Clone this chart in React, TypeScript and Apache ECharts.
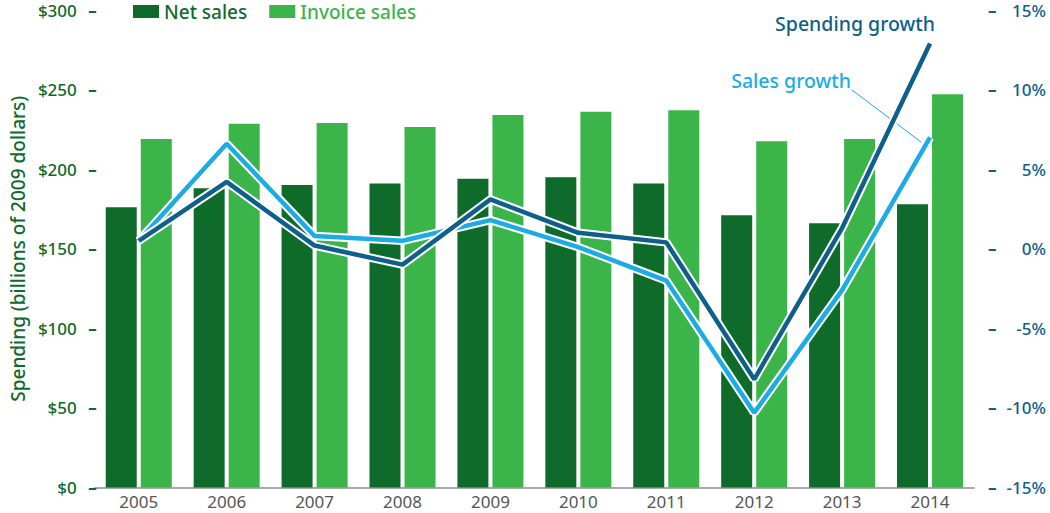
import React, { useEffect, useRef } from "react";
import * as echarts from "echarts";

const years = ["2005", "2006", "2007", "2008", "2009", "2010", "2011", "2012", "2013", "2014"];
const netSales = [176, 188, 190, 191, 194, 195, 191, 171, 166, 178];
const invoiceSales = [219, 228.5, 229, 226.5, 234, 236, 237, 217.5, 219, 247];
const spendingGrowth = [0.5, 4.2, 0.2, -1.0, 3.1, 1.0, 0.4, -8.2, 1.3, 12.9];
const salesGrowth = [0.5, 6.6, 0.8, 0.5, 1.8, 0.1, -2.0, -10.3, -2.6, 7.0];

const DARK_GREEN = "#0e6b2a";
const LIGHT_GREEN = "#3bb44a";
const DARK_BLUE = "#0f5f8b";
const LIGHT_BLUE = "#1cabe4";
const FONT = "'Noto Sans', 'Open Sans', sans-serif";
const W = 500;

const App = () => {
  const chartRef = useRef<HTMLDivElement>(null);

  useEffect(() => {
    if (!chartRef.current) return;
    const chart = echarts.init(chartRef.current, undefined, { renderer: "svg" });

    const outline = (data: number[]) => ({
      type: "line" as const,
      yAxisIndex: 1,
      data,
      symbol: "none",
      silent: true,
      lineStyle: { color: "#ffffff", width: 8.5 },
    });

    const option: echarts.EChartsOption = {
      animation: false,
      textStyle: { fontFamily: FONT },
      grid: { left: 84, right: 76, top: 10, bottom: 25.5 },
      legend: {
        top: 2,
        left: 133,
        padding: 0,
        icon: "rect",
        itemWidth: 26,
        itemHeight: 13,
        itemGap: 22,
        selectedMode: false,
        textStyle: { fontSize: 19, fontWeight: W, fontFamily: FONT, lineHeight: 16 },
        data: [
          { name: "Net sales", textStyle: { color: DARK_GREEN } },
          { name: "Invoice sales", textStyle: { color: LIGHT_GREEN } },
        ],
      },
      xAxis: {
        type: "category",
        data: years,
        axisLine: { lineStyle: { color: "#a8a8a8", width: 2 } },
        axisTick: { show: false },
        axisLabel: { color: "#555555", fontSize: 17, margin: 6, fontFamily: FONT, lineHeight: 16 },
      },
      yAxis: [
        {
          type: "value",
          min: 0,
          max: 300,
          interval: 50,
          name: "Spending (billions of 2009 dollars)",
          nameLocation: "middle",
          nameRotate: 90,
          nameGap: 64,
          nameTextStyle: { color: DARK_GREEN, fontSize: 19, fontWeight: W, fontFamily: FONT },
          axisLine: { show: false },
          axisTick: { show: false },
          splitLine: { show: false },
          axisLabel: {
            margin: -2,
            color: DARK_GREEN,
            formatter: (v: number) => `{n|$${v}}{d|–}`,
            rich: {
              n: { color: DARK_GREEN, fontSize: 17, fontWeight: W, fontFamily: FONT, lineHeight: 16 },
              d: { width: 20, align: "right", color: DARK_GREEN, fontSize: 17, fontWeight: "bold", fontFamily: FONT, lineHeight: 16 },
            },
          },
        },
        {
          type: "value",
          min: -15,
          max: 15,
          interval: 5,
          axisLine: { show: false },
          axisTick: { show: false },
          splitLine: { show: false },
          axisLabel: {
            margin: 14,
            color: DARK_BLUE,
            formatter: (v: number) => `{d|–}{n|${v}%}`,
            rich: {
              d: { width: 12, color: DARK_BLUE, fontSize: 17, fontWeight: "bold", fontFamily: FONT, lineHeight: 16 },
              n: { width: 46, align: "right", color: DARK_BLUE, fontSize: 17, fontWeight: W, fontFamily: FONT, lineHeight: 16 },
            },
          },
        },
      ],
      series: [
        {
          name: "Net sales",
          type: "bar",
          data: netSales,
          barWidth: 31,
          barGap: "13%",
          itemStyle: { color: DARK_GREEN },
        },
        {
          name: "Invoice sales",
          type: "bar",
          data: invoiceSales,
          barWidth: 31,
          itemStyle: { color: LIGHT_GREEN },
        },
        outline(salesGrowth),
        {
          name: "Sales growth",
          type: "line",
          yAxisIndex: 1,
          data: salesGrowth,
          symbol: "none",
          lineStyle: { color: LIGHT_BLUE, width: 4.5 },
        },
        outline(spendingGrowth),
        {
          name: "Spending growth",
          type: "line",
          yAxisIndex: 1,
          data: spendingGrowth,
          symbol: "none",
          lineStyle: { color: DARK_BLUE, width: 4.5 },
        },
      ],
      graphic: [
        {
          type: "text",
          x: 935,
          y: 23,
          style: {
            text: "Spending growth",
            align: "right",
            verticalAlign: "middle",
            fill: DARK_BLUE,
            fontSize: 19.5,
            fontWeight: W,
            fontFamily: FONT,
          },
        },
        {
          type: "text",
          x: 851,
          y: 80,
          style: {
            text: "Sales growth",
            align: "right",
            verticalAlign: "middle",
            fill: LIGHT_BLUE,
            fontSize: 19.5,
            fontWeight: W,
            fontFamily: FONT,
          },
        },
        {
          type: "line",
          z: 1,
          shape: { x1: 852, y1: 90, x2: 921, y2: 142 },
          style: { stroke: LIGHT_BLUE, lineWidth: 1 },
        },
      ],
    };

    chart.setOption(option);
    return () => chart.dispose();
  }, []);

  return (
    <div
      ref={chartRef}
      style={{ position: "absolute", left: 0, top: 0, width: 1050, height: 513, background: "#ffffff" }}
    />
  );
};

export default App;
